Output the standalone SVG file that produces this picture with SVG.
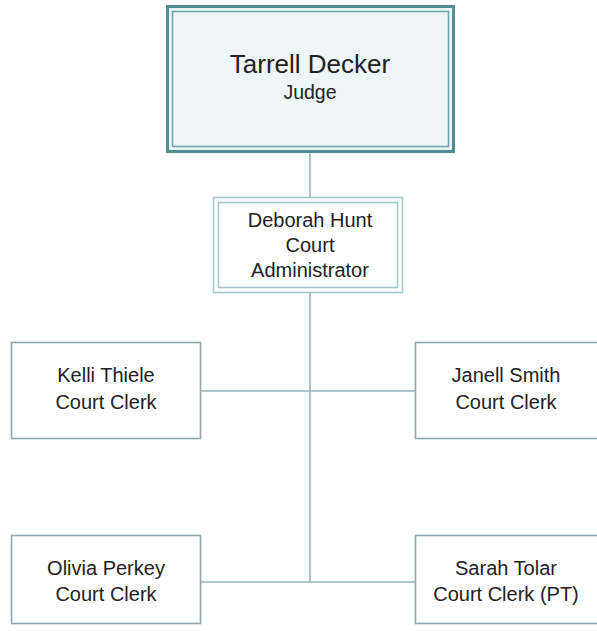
<svg xmlns="http://www.w3.org/2000/svg" width="597" height="631" viewBox="0 0 597 631">
<style>
text{font-family:"Liberation Sans",Arial,sans-serif;fill:#222222;text-anchor:middle}
.big{font-size:26px}
.sub{font-size:19.5px}
.t{font-size:20px}
.clerk{fill:#ffffff;stroke:#8ba8ad;stroke-width:1.6}
.conn{stroke:#8fb7bc;stroke-width:1.6;fill:none}
</style>
<rect width="597" height="631" fill="#ffffff"/>
<g id="connectors">
<line class="conn" x1="310" y1="152" x2="310" y2="197"/>
<line class="conn" x1="310" y1="293" x2="310" y2="582"/>
<line class="conn" x1="201" y1="391" x2="415" y2="391"/>
<line class="conn" x1="201" y1="582" x2="415" y2="582"/>
</g>
<g id="judge">
<rect x="167.5" y="6.5" width="286" height="145" fill="#edf5f7" stroke="#4e8d91" stroke-width="3"/>
<rect x="172.5" y="11.5" width="276" height="135" fill="none" stroke="#6aa2a6" stroke-width="1.5"/>
<text class="big" x="310" y="73">Tarrell Decker</text>
<text class="sub" x="310" y="99">Judge</text>
</g>
<g id="admin">
<rect x="213.5" y="197.5" width="189" height="95" fill="#ffffff" stroke="#a6c6ca" stroke-width="1.6"/>
<rect x="218.5" y="202.5" width="179" height="85" fill="none" stroke="#a6c6ca" stroke-width="1.6"/>
<text class="t" x="310" y="227">Deborah Hunt</text>
<text class="t" x="310" y="252">Court</text>
<text class="t" x="310" y="277">Administrator</text>
</g>
<g id="kelli">
<rect class="clerk" x="11.5" y="342.5" width="189" height="96"/>
<text class="t" x="106" y="382">Kelli Thiele</text>
<text class="t" x="106" y="409">Court Clerk</text>
</g>
<g id="janell">
<rect class="clerk" x="415.5" y="342.5" width="190" height="96"/>
<text class="t" x="506" y="382">Janell Smith</text>
<text class="t" x="506" y="409">Court Clerk</text>
</g>
<g id="olivia">
<rect class="clerk" x="11.5" y="535.5" width="189" height="88"/>
<text class="t" x="106" y="575">Olivia Perkey</text>
<text class="t" x="106" y="601">Court Clerk</text>
</g>
<g id="sarah">
<rect class="clerk" x="415.5" y="535.5" width="190" height="88"/>
<text class="t" x="506" y="575">Sarah Tolar</text>
<text class="t" x="506" y="601">Court Clerk (PT)</text>
</g>
</svg>
